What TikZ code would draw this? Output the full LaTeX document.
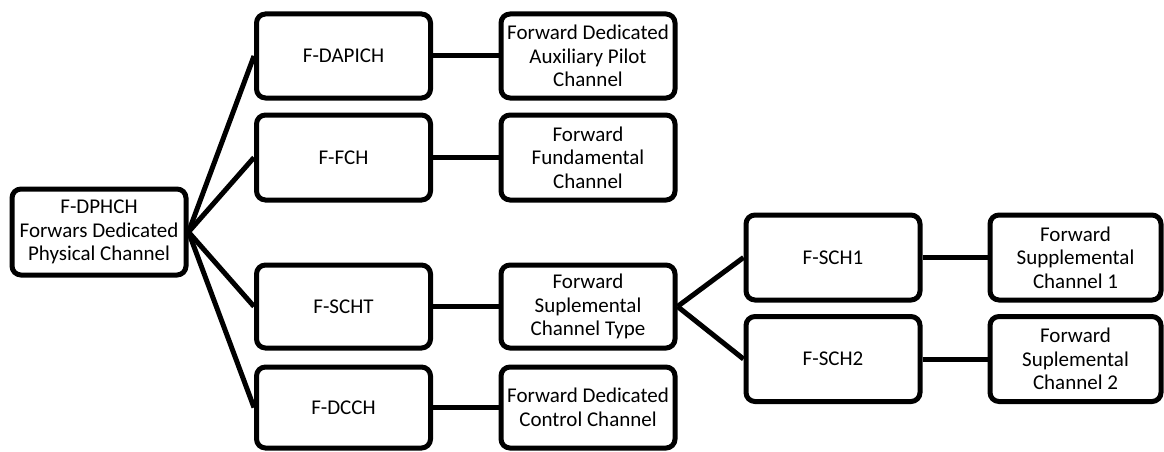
\documentclass[tikz,border=0pt]{standalone}
\usepackage{fontspec}
\setmainfont{Carlito}
\begin{document}
\begin{tikzpicture}[x=1pt,y=-1pt,
  box/.style={draw=black, line width=5pt, rounded corners=9pt, fill=white,
    minimum width=174pt, minimum height=85pt, inner sep=0pt, align=center,
    font=\fontsize{21}{23.5}\selectfont},
  link/.style={line width=5pt}]
\useasboundingbox (0,0) rectangle (1164,452);
\node[box, minimum height=86pt] (root) at (99,232) {F-DPHCH\\Forwars Dedicated\\Physical Channel};
\node[box, minimum height=84pt] (dapich) at (343.5,56) {F-DAPICH};
\node[box, minimum height=84pt] (dapichd) at (588,56) {Forward Dedicated\\Auxiliary Pilot\\Channel};
\node[box] (fch) at (343.5,157.5) {F-FCH};
\node[box] (fchd) at (588,157.5) {Forward\\Fundamental\\Channel};
\node[box, minimum height=83pt] (scht) at (343.5,306.5) {F-SCHT};
\node[box, minimum height=83pt] (schtd) at (588,306.5) {Forward\\Suplemental\\Channel Type};
\node[box, minimum height=81pt] (dcch) at (343.5,407.5) {F-DCCH};
\node[box, minimum height=81pt] (dcchd) at (588,407.5) {Forward Dedicated\\Control Channel};
\node[box] (sch1) at (833,257.5) {F-SCH1};
\node[box, minimum width=171pt] (sch1d) at (1075.5,257.5) {Forward\\Supplemental\\Channel 1};
\node[box] (sch2) at (833,359) {F-SCH2};
\node[box, minimum width=171pt] (sch2d) at (1075.5,359) {Forward\\Suplemental\\Channel 2};
\draw[link] (root.east) -- (dapich.west);
\draw[link] (root.east) -- (fch.west);
\draw[link] (root.east) -- (scht.west);
\draw[link] (root.east) -- (dcch.west);
\draw[link] (dapich.east) -- (dapichd.west);
\draw[link] (fch.east) -- (fchd.west);
\draw[link] (scht.east) -- (schtd.west);
\draw[link] (dcch.east) -- (dcchd.west);
\draw[link] (schtd.east) -- (sch1.west);
\draw[link] (schtd.east) -- (sch2.west);
\draw[link] (sch1.east) -- (sch1d.west);
\draw[link] (sch2.east) -- (sch2d.west);
\end{tikzpicture}
\end{document}
